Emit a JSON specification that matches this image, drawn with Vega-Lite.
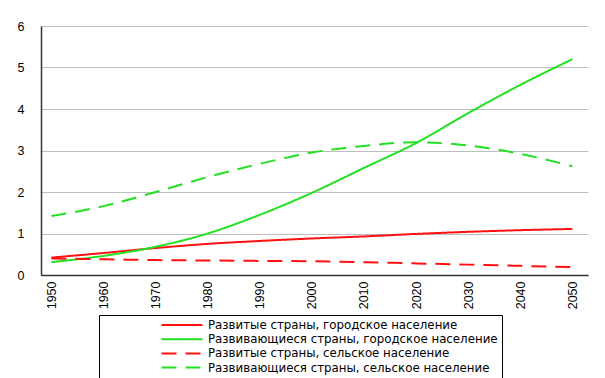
{
  "$schema": "https://vega.github.io/schema/vega-lite/v6.json",
  "autosize": "none",
  "width": 547,
  "height": 249,
  "padding": {"left": 41, "top": 26, "right": 17, "bottom": 103},
  "background": "white",
  "config": {
    "font": "Liberation Sans",
    "view": {"stroke": null}
  },
  "data": {
    "values": [
      {"year": 1950, "series": "Развитые страны, городское население", "value": 0.42},
      {"year": 1960, "series": "Развитые страны, городское население", "value": 0.53},
      {"year": 1970, "series": "Развитые страны, городское население", "value": 0.65},
      {"year": 1980, "series": "Развитые страны, городское население", "value": 0.75},
      {"year": 1990, "series": "Развитые страны, городское население", "value": 0.82},
      {"year": 2000, "series": "Развитые страны, городское население", "value": 0.88},
      {"year": 2010, "series": "Развитые страны, городское население", "value": 0.93},
      {"year": 2020, "series": "Развитые страны, городское население", "value": 0.99},
      {"year": 2030, "series": "Развитые страны, городское население", "value": 1.04},
      {"year": 2040, "series": "Развитые страны, городское население", "value": 1.08},
      {"year": 2050, "series": "Развитые страны, городское население", "value": 1.11},
      {"year": 1950, "series": "Развивающиеся страны, городское население", "value": 0.31},
      {"year": 1960, "series": "Развивающиеся страны, городское население", "value": 0.46},
      {"year": 1970, "series": "Развивающиеся страны, городское население", "value": 0.68},
      {"year": 1980, "series": "Развивающиеся страны, городское население", "value": 1.0},
      {"year": 1990, "series": "Развивающиеся страны, городское население", "value": 1.45},
      {"year": 2000, "series": "Развивающиеся страны, городское население", "value": 1.98},
      {"year": 2010, "series": "Развивающиеся страны, городское население", "value": 2.58},
      {"year": 2020, "series": "Развивающиеся страны, городское население", "value": 3.18},
      {"year": 2030, "series": "Развивающиеся страны, городское население", "value": 3.9},
      {"year": 2040, "series": "Развивающиеся страны, городское население", "value": 4.58},
      {"year": 2050, "series": "Развивающиеся страны, городское население", "value": 5.2},
      {"year": 1950, "series": "Развитые страны, сельское население", "value": 0.4},
      {"year": 1960, "series": "Развитые страны, сельское население", "value": 0.38},
      {"year": 1970, "series": "Развитые страны, сельское население", "value": 0.36},
      {"year": 1980, "series": "Развитые страны, сельское население", "value": 0.35},
      {"year": 1990, "series": "Развитые страны, сельское население", "value": 0.34},
      {"year": 2000, "series": "Развитые страны, сельское население", "value": 0.33},
      {"year": 2010, "series": "Развитые страны, сельское население", "value": 0.31},
      {"year": 2020, "series": "Развитые страны, сельское население", "value": 0.28},
      {"year": 2030, "series": "Развитые страны, сельское население", "value": 0.25},
      {"year": 2040, "series": "Развитые страны, сельское население", "value": 0.22},
      {"year": 2050, "series": "Развитые страны, сельское население", "value": 0.19},
      {"year": 1950, "series": "Развивающиеся страны, сельское население", "value": 1.42},
      {"year": 1960, "series": "Развивающиеся страны, сельское население", "value": 1.66},
      {"year": 1970, "series": "Развивающиеся страны, сельское население", "value": 2.0},
      {"year": 1980, "series": "Развивающиеся страны, сельское население", "value": 2.36},
      {"year": 1990, "series": "Развивающиеся страны, сельское население", "value": 2.68},
      {"year": 2000, "series": "Развивающиеся страны, сельское население", "value": 2.95},
      {"year": 2010, "series": "Развивающиеся страны, сельское население", "value": 3.11},
      {"year": 2020, "series": "Развивающиеся страны, сельское население", "value": 3.2},
      {"year": 2030, "series": "Развивающиеся страны, сельское население", "value": 3.12},
      {"year": 2040, "series": "Развивающиеся страны, сельское население", "value": 2.92},
      {"year": 2050, "series": "Развивающиеся страны, сельское население", "value": 2.62}
    ]
  },
  "mark": {"type": "line", "interpolate": "monotone", "strokeWidth": 2},
  "encoding": {
    "x": {
      "field": "year",
      "type": "quantitative",
      "scale": {"domain": [1948, 2053], "nice": false, "zero": false},
      "axis": {
        "title": null,
        "values": [1950, 1960, 1970, 1980, 1990, 2000, 2010, 2020, 2030, 2040, 2050],
        "format": "d",
        "labelAngle": 270,
        "labelFontSize": 12.5,
        "labelColor": "#000000",
        "labelPadding": 6,
        "ticks": false,
        "grid": false,
        "domainColor": "#333333",
        "domainWidth": 1.5
      }
    },
    "y": {
      "field": "value",
      "type": "quantitative",
      "scale": {"domain": [0, 6], "nice": false},
      "axis": {
        "title": null,
        "values": [0, 1, 2, 3, 4, 5, 6],
        "labelFontSize": 12.5,
        "labelColor": "#000000",
        "labelPadding": 17,
        "ticks": false,
        "gridColor": "#bdbdbd",
        "gridWidth": 1,
        "domainColor": "#333333",
        "domainWidth": 1.5
      }
    },
    "color": {
      "field": "series",
      "type": "nominal",
      "scale": {
        "domain": ["Развитые страны, городское население", "Развивающиеся страны, городское население", "Развитые страны, сельское население", "Развивающиеся страны, сельское население"],
        "range": ["#ff1010", "#22e022", "#ff1010", "#22e022"]
      },
      "legend": {
        "title": null,
        "orient": "none",
        "legendX": 58,
        "legendY": 289,
        "direction": "vertical",
        "strokeColor": "#000000",
        "fillColor": "white",
        "padding": 4,
        "symbolType": "M-4.1,0L4.1,0",
        "symbolSize": 100,
        "symbolStrokeWidth": 2,
        "symbolOffset": 73,
        "labelFont": "DejaVu Sans",
        "labelFontSize": 11.8,
        "labelColor": "#000000",
        "labelOffset": 20,
        "labelLimit": 400,
        "rowPadding": 1.2
      }
    },
    "strokeDash": {
      "field": "series",
      "type": "nominal",
      "scale": {
        "domain": ["Развитые страны, городское население", "Развивающиеся страны, городское население", "Развитые страны, сельское население", "Развивающиеся страны, сельское население"],
        "range": [[1, 0], [1, 0], [15, 9], [15, 9]]
      },
      "legend": null
    }
  }
}
